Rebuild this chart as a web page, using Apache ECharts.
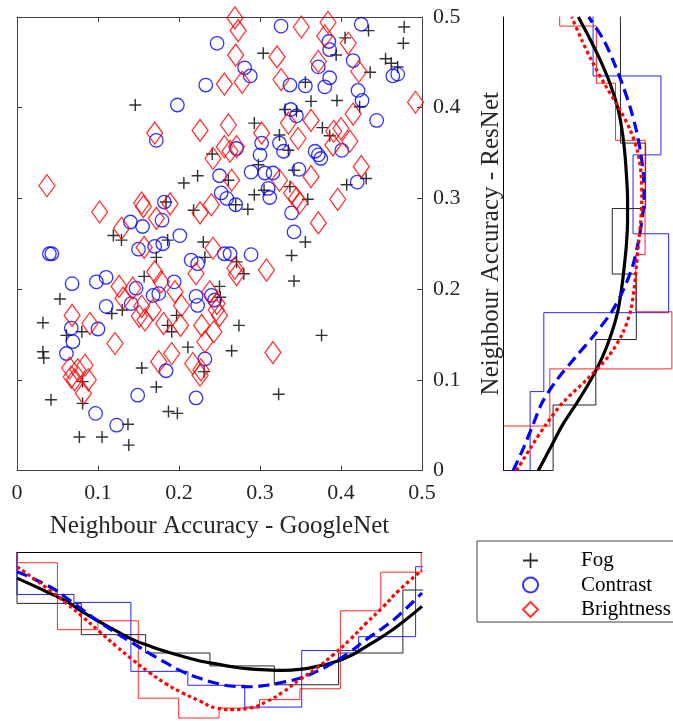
<!DOCTYPE html>
<html>
<head>
<meta charset="utf-8">
<script src="https://cdn.jsdelivr.net/npm/echarts@6/dist/echarts.min.js"></script>
<style>html,body{margin:0;padding:0;background:#fff;}#c{width:673px;height:721px;}</style>
</head>
<body>
<div id="c"></div>
<script>
// ---------- data ----------
const seriesNames = ['Fog', 'Contrast', 'Brightness'];
const axisTicks = [0, 0.1, 0.2, 0.3, 0.4, 0.5];
const xTitle = 'Neighbour Accuracy - GoogleNet';
const yTitle = 'Neighbour Accuracy - ResNet';

const fogPoints = [
[0.146,0.403],[0.241,0.349],[0.223,0.325],[0.206,0.317],[0.184,0.296],[0.218,0.287],[0.119,0.259],[0.129,0.254],[0.186,0.254],[0.230,0.252],
[0.434,0.485],[0.478,0.489],[0.477,0.471],[0.405,0.477],[0.304,0.460],[0.394,0.458],[0.436,0.439],[0.455,0.454],[0.462,0.449],[0.470,0.445],
[0.356,0.428],[0.423,0.401],[0.363,0.407],[0.395,0.408],[0.331,0.398],[0.345,0.396],[0.293,0.383],[0.377,0.378],[0.386,0.369],[0.324,0.370],
[0.335,0.353],[0.298,0.337],[0.342,0.331],[0.431,0.322],[0.407,0.315],[0.261,0.320],[0.305,0.309],[0.337,0.313],[0.293,0.304],[0.359,0.299],
[0.270,0.293],[0.285,0.288],[0.356,0.252],[0.172,0.235],[0.232,0.235],[0.157,0.214],[0.250,0.203],[0.053,0.189],[0.130,0.177],[0.117,0.173],
[0.197,0.171],[0.186,0.160],[0.032,0.163],[0.080,0.153],[0.191,0.153],[0.061,0.149],[0.211,0.136],[0.032,0.131],[0.033,0.124],[0.154,0.113],
[0.231,0.109],[0.081,0.098],[0.172,0.092],[0.042,0.078],[0.081,0.074],[0.187,0.065],[0.198,0.063],[0.137,0.051],[0.077,0.037],[0.105,0.037],
[0.138,0.028],[0.339,0.237],[0.271,0.230],[0.280,0.217],[0.342,0.209],[0.251,0.191],[0.274,0.160],[0.376,0.149],[0.265,0.132],[0.323,0.084]
];
const contrastPoints = [
[0.247,0.471],[0.233,0.425],[0.198,0.403],[0.172,0.364],[0.250,0.325],[0.252,0.306],[0.182,0.296],[0.179,0.276],[0.140,0.274],[0.155,0.269],
[0.201,0.259],[0.326,0.490],[0.425,0.492],[0.385,0.473],[0.386,0.464],[0.372,0.445],[0.415,0.452],[0.464,0.435],[0.470,0.437],[0.281,0.444],
[0.288,0.435],[0.337,0.425],[0.356,0.424],[0.386,0.433],[0.380,0.423],[0.421,0.419],[0.426,0.408],[0.444,0.386],[0.338,0.398],[0.345,0.391],
[0.302,0.361],[0.324,0.361],[0.329,0.352],[0.271,0.355],[0.300,0.348],[0.368,0.352],[0.372,0.348],[0.375,0.344],[0.401,0.353],[0.289,0.329],
[0.306,0.328],[0.316,0.328],[0.348,0.332],[0.420,0.318],[0.310,0.311],[0.312,0.301],[0.259,0.300],[0.270,0.293],[0.339,0.284],[0.342,0.263],
[0.150,0.244],[0.170,0.247],[0.180,0.250],[0.040,0.239],[0.043,0.239],[0.215,0.232],[0.223,0.228],[0.194,0.208],[0.068,0.206],[0.098,0.208],
[0.110,0.213],[0.147,0.201],[0.168,0.193],[0.175,0.195],[0.221,0.192],[0.240,0.193],[0.244,0.188],[0.141,0.184],[0.223,0.182],[0.110,0.181],
[0.067,0.157],[0.100,0.156],[0.069,0.142],[0.061,0.129],[0.232,0.123],[0.184,0.110],[0.149,0.083],[0.221,0.080],[0.097,0.063],[0.123,0.050],
[0.256,0.239],[0.263,0.239],[0.289,0.238]
];
const brightnessPoints = [
[0.170,0.372],[0.226,0.375],[0.242,0.344],[0.037,0.314],[0.240,0.293],[0.189,0.294],[0.154,0.295],[0.156,0.291],[0.102,0.285],[0.226,0.284],
[0.172,0.278],[0.129,0.267],[0.269,0.499],[0.273,0.485],[0.351,0.489],[0.384,0.494],[0.380,0.479],[0.409,0.471],[0.270,0.458],[0.321,0.456],
[0.372,0.451],[0.422,0.440],[0.256,0.426],[0.278,0.428],[0.326,0.431],[0.492,0.406],[0.415,0.393],[0.335,0.383],[0.363,0.386],[0.261,0.381],
[0.391,0.374],[0.400,0.377],[0.411,0.363],[0.302,0.372],[0.347,0.366],[0.256,0.357],[0.263,0.352],[0.390,0.359],[0.363,0.324],[0.425,0.335],
[0.265,0.320],[0.324,0.320],[0.339,0.306],[0.345,0.300],[0.349,0.295],[0.396,0.299],[0.372,0.273],[0.157,0.246],[0.242,0.245],[0.170,0.219],
[0.221,0.217],[0.178,0.208],[0.126,0.203],[0.143,0.201],[0.195,0.197],[0.238,0.197],[0.131,0.190],[0.203,0.182],[0.154,0.181],[0.168,0.177],
[0.246,0.177],[0.068,0.171],[0.151,0.170],[0.158,0.166],[0.181,0.162],[0.090,0.162],[0.202,0.160],[0.228,0.160],[0.243,0.153],[0.121,0.140],
[0.232,0.142],[0.191,0.129],[0.175,0.120],[0.217,0.118],[0.065,0.113],[0.075,0.111],[0.084,0.116],[0.067,0.103],[0.071,0.100],[0.088,0.100],
[0.227,0.111],[0.226,0.105],[0.082,0.085],[0.308,0.221],[0.269,0.223],[0.271,0.216],[0.247,0.184],[0.250,0.171],[0.316,0.130],[0.271,0.357]
];

// marginal histograms along x (GoogleNet), pdf-normalised
const fogHistXEdges = [0, 0.0794, 0.1588, 0.2382, 0.3176, 0.397, 0.4764, 0.5558];
const fogHistXDensity = [1.03, 1.66, 2.03, 2.29, 2.67, 2.03, 0.76];
const contrastHistXEdges = [0, 0.0703, 0.1406, 0.2109, 0.2812, 0.3515, 0.4218, 0.4921, 0.5624];
const contrastHistXDensity = [0.85, 1.01, 2.40, 2.68, 3.12, 1.98, 1.70, 0.29];
const brightnessHistXEdges = [0, 0.0499, 0.0998, 0.1497, 0.1996, 0.2495, 0.2994, 0.3493, 0.3992, 0.4491, 0.499];
const brightnessHistXDensity = [0.21, 1.56, 1.38, 2.94, 3.34, 3.14, 2.97, 2.75, 1.18, 0.40];

// marginal histograms along y (ResNet)
const fogHistYEdges = [0, 0.0722, 0.1444, 0.2166, 0.2888, 0.361, 0.4332, 0.5054];
const fogHistYDensity = [0.91, 1.69, 2.43, 1.99, 2.60, 2.14, 2.14];
const contrastHistYEdges = [0, 0.087, 0.174, 0.261, 0.348, 0.435, 0.522];
const contrastHistYDensity = [0.49, 0.74, 3.02, 2.37, 2.88, 1.64];
const brightnessHistYEdges = [0.049, 0.112, 0.175, 0.238, 0.301, 0.364, 0.427, 0.490, 0.553];
const brightnessHistYDensity = [0.85, 3.08, 2.42, 2.59, 2.59, 2.05, 1.70, 1.03];

// kernel density curves along x
const kdeXGrid = [0, 0.040, 0.061, 0.081, 0.102, 0.123, 0.143, 0.164, 0.184, 0.205, 0.226, 0.246, 0.267, 0.287, 0.308, 0.328, 0.349, 0.370, 0.390, 0.411, 0.431, 0.452, 0.472, 0.5];
const fogKdeX =        [0.52, 0.82, 0.99, 1.20, 1.40, 1.59, 1.76, 1.89, 2.00, 2.10, 2.19, 2.25, 2.31, 2.35, 2.37, 2.38, 2.36, 2.30, 2.22, 2.09, 1.90, 1.69, 1.46, 1.09];
const contrastKdeX =   [0.39, 0.69, 0.92, 1.16, 1.41, 1.63, 1.83, 2.04, 2.23, 2.41, 2.54, 2.64, 2.70, 2.71, 2.68, 2.62, 2.54, 2.40, 2.23, 2.01, 1.76, 1.52, 1.26, 0.82];
const brightnessKdeX = [0.29, 0.76, 1.03, 1.30, 1.60, 1.90, 2.17, 2.43, 2.65, 2.84, 3.00, 3.14, 3.17, 3.14, 3.01, 2.82, 2.57, 2.33, 2.07, 1.76, 1.43, 1.10, 0.76, 0.36];

// kernel density curves along y
const kdeYGrid = [0, 0.025, 0.05, 0.075, 0.1, 0.125, 0.15, 0.175, 0.2, 0.225, 0.25, 0.275, 0.3, 0.325, 0.35, 0.375, 0.4, 0.425, 0.45, 0.475, 0.5];
const fogKdeY =        [0.64, 0.86, 1.08, 1.35, 1.60, 1.81, 1.97, 2.09, 2.16, 2.21, 2.25, 2.27, 2.27, 2.25, 2.22, 2.17, 2.09, 1.96, 1.79, 1.59, 1.37];
const contrastKdeY =   [0.18, 0.37, 0.54, 0.71, 0.98, 1.32, 1.67, 1.98, 2.20, 2.36, 2.46, 2.53, 2.57, 2.56, 2.51, 2.43, 2.32, 2.18, 2.02, 1.83, 1.56];
const brightnessKdeY = [0.24, 0.50, 0.77, 1.09, 1.52, 1.91, 2.17, 2.32, 2.39, 2.43, 2.47, 2.51, 2.53, 2.52, 2.46, 2.32, 2.11, 1.86, 1.63, 1.43, 1.25];

// ---------- build ----------
const colors = ['#000000', '#0000ff', '#ff0000'];
const FONT = 'Liberation Serif';
const AX = '#404040';

function stairs(edges, vals, swap) {
  const pts = [[edges[0], 0]];
  for (let i = 0; i < vals.length; i++) {
    pts.push([edges[i], vals[i]]);
    pts.push([edges[i + 1], vals[i]]);
  }
  pts.push([edges[edges.length - 1], 0]);
  return swap ? pts.map(p => [p[1], p[0]]) : pts;
}
function curve(grid, vals, swap) {
  return grid.map((g, i) => swap ? [vals[i], g] : [g, vals[i]]);
}
const tickFmt = v => {
  const t = axisTicks.find(a => Math.abs(a - v) < 1e-9);
  return t === undefined ? '' : String(t);
};

const boxAxis = (extra) => Object.assign({
  type: 'value', min: 0, max: 0.5, interval: 0.1,
  axisLine: { show: true, onZero: false, lineStyle: { color: AX, width: 1 } },
  axisTick: { show: true, inside: true, length: 5, lineStyle: { color: AX, width: 1 } },
  axisLabel: { show: false },
  splitLine: { show: false }
}, extra);

const hist = [
  [fogHistXEdges, fogHistXDensity, fogHistYEdges, fogHistYDensity],
  [contrastHistXEdges, contrastHistXDensity, contrastHistYEdges, contrastHistYDensity],
  [brightnessHistXEdges, brightnessHistXDensity, brightnessHistYEdges, brightnessHistYDensity]
];
const kdeX = [fogKdeX, contrastKdeX, brightnessKdeX];
const kdeY = [fogKdeY, contrastKdeY, brightnessKdeY];
const curveStyles = [
  { type: 'solid', width: 3.2 },
  { type: [11, 6], width: 3.2 },
  { type: [3.5, 3], width: 3.2 }
];

const series = [];
for (let k = 0; k < 3; k++) {
  series.push({ name: seriesNames[k] + ' hist x', type: 'line', xAxisIndex: 2, yAxisIndex: 2,
    data: stairs(hist[k][0], hist[k][1], false), showSymbol: false, symbol: 'none', silent: true,
    lineStyle: { color: colors[k], width: 1, opacity: 0.85 }, z: 2 });
  series.push({ name: seriesNames[k] + ' hist y', type: 'line', xAxisIndex: 3, yAxisIndex: 3,
    data: stairs(hist[k][2], hist[k][3], true), showSymbol: false, symbol: 'none', silent: true,
    lineStyle: { color: colors[k], width: 1, opacity: 0.85 }, z: 2 });
}
for (let k = 0; k < 3; k++) {
  series.push({ name: seriesNames[k] + ' kde x', type: 'line', xAxisIndex: 2, yAxisIndex: 2,
    data: curve(kdeXGrid, kdeX[k], false), smooth: 0.5, showSymbol: false, symbol: 'none', silent: true,
    lineStyle: Object.assign({ color: colors[k], cap: 'butt' }, curveStyles[k]), z: 3 });
  series.push({ name: seriesNames[k] + ' kde y', type: 'line', xAxisIndex: 3, yAxisIndex: 3,
    data: curve(kdeYGrid, kdeY[k], true), smooth: 0.3, showSymbol: false, symbol: 'none', silent: true,
    lineStyle: Object.assign({ color: colors[k], cap: 'butt' }, curveStyles[k]), z: 3 });
}
series.push({ name: 'Fog', type: 'scatter', xAxisIndex: 0, yAxisIndex: 0, data: fogPoints,
  symbol: 'path://M4.4,0 L5.6,0 L5.6,4.4 L10,4.4 L10,5.6 L5.6,5.6 L5.6,10 L4.4,10 L4.4,5.6 L0,5.6 L0,4.4 L4.4,4.4 Z',
  symbolSize: 12, itemStyle: { color: '#000' }, z: 5 });
series.push({ name: 'Contrast', type: 'scatter', xAxisIndex: 0, yAxisIndex: 0, data: contrastPoints,
  symbol: 'circle', symbolSize: 13.5, itemStyle: { color: 'rgba(0,0,0,0)', borderColor: '#0000ff', borderWidth: 1.3 }, z: 6 });
series.push({ name: 'Brightness', type: 'scatter', xAxisIndex: 0, yAxisIndex: 0, data: brightnessPoints,
  symbol: 'diamond', symbolSize: [16, 22], itemStyle: { color: 'rgba(0,0,0,0)', borderColor: '#ff0000', borderWidth: 1.3 }, z: 7 });

const option = {
  backgroundColor: '#ffffff',
  animation: false,
  grid: [
    { left: 17, top: 17, width: 405, height: 453.5 },
    { left: 17, top: 552.3, width: 405, height: 169 },
    { left: 503.3, top: 17, width: 170, height: 453.5 }
  ],
  xAxis: [
    boxAxis({ gridIndex: 0, position: 'bottom',
      axisLabel: { show: true, margin: 12, fontFamily: FONT, fontSize: 22, color: '#262626', formatter: tickFmt },
      name: xTitle, nameLocation: 'middle', nameGap: 43,
      nameTextStyle: { fontFamily: FONT, fontSize: 25, color: '#262626' } }),
    boxAxis({ gridIndex: 0, position: 'top' }),
    { gridIndex: 1, type: 'value', min: 0, max: 0.5, position: 'top',
      axisLine: { show: true, onZero: false, lineStyle: { color: '#000', width: 1 } },
      axisTick: { show: false }, axisLabel: { show: false }, splitLine: { show: false } },
    { gridIndex: 2, type: 'value', min: 0, max: 3.1, show: false }
  ],
  yAxis: [
    boxAxis({ gridIndex: 0, position: 'right',
      axisLabel: { show: true, margin: 11, fontFamily: FONT, fontSize: 22, color: '#262626', formatter: tickFmt },
      name: yTitle, nameLocation: 'middle', nameGap: 57, nameRotate: 90,
      nameTextStyle: { fontFamily: FONT, fontSize: 25, color: '#262626' } }),
    boxAxis({ gridIndex: 0, position: 'left' }),
    { gridIndex: 1, type: 'value', min: 0, max: 3.4, inverse: true, show: false },
    { gridIndex: 2, type: 'value', min: 0, max: 0.5, position: 'left',
      axisLine: { show: true, onZero: false, lineStyle: { color: '#000', width: 1 } },
      axisTick: { show: false }, axisLabel: { show: false }, splitLine: { show: false } }
  ],
  legend: {
    data: seriesNames, orient: 'vertical', left: 477, top: 541,
    itemWidth: 15, itemHeight: 15, itemGap: 3.5,
    padding: [9, 120, 2, 45],
    borderColor: '#404040', borderWidth: 1, backgroundColor: '#fff',
    textStyle: { fontFamily: FONT, fontSize: 21, color: '#000', padding: [0, 0, 0, 38], lineHeight: 20 },
    selectedMode: false
  },
  series: series
};
const chart = echarts.init(document.getElementById('c'), null, { renderer: 'canvas' });
chart.setOption(option);
</script>
</body>
</html>
